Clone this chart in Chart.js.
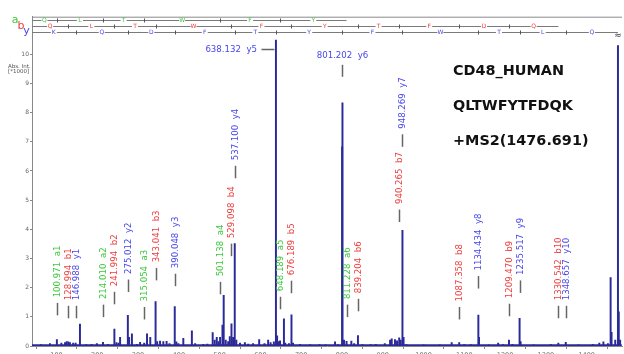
<!DOCTYPE html>
<html>
<head>
<meta charset="utf-8">
<script src="https://cdn.jsdelivr.net/npm/chart.js@4/dist/chart.umd.min.js"></script>
<style>
  html, body { margin: 0; padding: 0; background: #fff; overflow: hidden; height: 354px; }
  #wrap { width: 624px; height: 359px; position: relative; }
</style>
</head>
<body>
<div id="wrap"><canvas id="spec"></canvas></div>
<script>
// ========================================
// DATA
// ========================================

// stick spectrum (m/z, Abs. Int. x1000)
const peakMz = [62, 84, 101.0, 112, 121, 125, 129.0, 133, 141, 147.0, 157.6, 173, 186, 199, 214.0, 226,
    242.0, 247, 252, 256, 275.0, 278, 285, 297, 305, 315.1, 322, 330, 343.0, 347, 354, 362, 370, 377,
    390.0, 394, 399, 411, 432, 440, 460, 470, 483, 488, 493, 497, 501.1, 507, 510, 515, 521, 525, 529.1,
    533, 537.1, 541, 550, 562, 570, 582, 597, 610, 619, 625, 633, 638.1, 641, 645, 648.2, 657.7, 661,
    670, 676.2, 680, 697, 722, 745, 760, 783, 790, 800.4, 801.2, 805, 811.2, 823, 830, 839.2, 850, 870,
    883, 905, 918, 922, 930, 935, 940.3, 944, 948.3, 951, 958, 1000, 1040, 1069, 1087.4, 1100, 1116,
    1134.4, 1136, 1160, 1183, 1195, 1209.5, 1218, 1235.5, 1238, 1270, 1312, 1330.5, 1348.7, 1380, 1415,
    1431, 1441, 1452, 1458.7, 1461, 1470, 1476.7, 1478.7, 1482];
const peakInt = [0.05, 0.08, 0.22, 0.1, 0.12, 0.15, 0.14, 0.12, 0.1, 0.1, 0.75, 0.05, 0.06, 0.08, 0.13, 0.06,
    0.58, 0.12, 0.1, 0.3, 1.05, 0.3, 0.42, 0.06, 0.13, 0.1, 0.42, 0.3, 1.52, 0.15, 0.17, 0.15, 0.16, 0.08,
    1.35, 0.14, 0.08, 0.26, 0.52, 0.08, 0.06, 0.07, 0.46, 0.2, 0.3, 0.15, 0.3, 0.72, 1.74, 0.2, 0.15, 0.32, 0.76,
    0.3, 3.51, 0.2, 0.1, 0.12, 0.07, 0.08, 0.22, 0.08, 0.2, 0.12, 0.14, 10.49, 0.35, 0.15, 0.18, 0.93, 0.1,
    0.08, 1.07, 0.1, 0.06, 0.05, 0.05, 0.04, 0.14, 0.05, 6.83, 8.34, 0.2, 0.16, 0.17, 0.08, 0.36, 0.05, 0.05,
    0.06, 0.08, 0.2, 0.25, 0.22, 0.18, 0.28, 0.2, 3.97, 0.3, 0.05, 0.04, 0.04, 0.12, 0.12, 0.05, 0.05,
    1.06, 0.3, 0.04, 0.1, 0.05, 0.2, 0.06, 0.95, 0.15, 0.04, 0.06, 0.1, 0.13, 0.04, 0.06,
    0.1, 0.14, 0.08, 2.35, 0.47, 0.2, 10.3, 1.17, 0.2];
const baselineMz = [40, 1486];
const baselineInt = [0.03, 0.03];

// fragment labels (marker foot given in intensity units)
const annMz = [100.971, 128.994, 146.988, 214.010, 241.994, 275.012, 315.054, 343.041, 390.048, 501.138,
    529.098, 537.100, 648.189, 676.189, 811.228, 839.204, 940.265, 948.269, 1087.358, 1134.434, 1209.470,
    1235.517, 1330.542, 1348.657];
const annIon = ['a1', 'b1', 'y1', 'a2', 'b2', 'y2', 'a3', 'b3', 'y3', 'a4', 'b4', 'y4', 'a5', 'b5', 'a6', 'b6',
    'b7', 'y7', 'b8', 'y8', 'b9', 'y9', 'b10', 'y10'];
const annLevel = [1.05, 0.95, 0.95, 0.99, 1.43, 1.85, 0.91, 2.25, 2.05, 1.77, 3.08, 5.75, 1.26, 1.81, 0.99,
    1.19, 4.25, 6.83, 0.91, 1.97, 1.02, 1.82, 0.95, 0.95];
// the two big ones are labelled horizontally
const y5Ann = { mz: 638.132, ion: 'y5', level: 10.19 };
const y6Ann = { mz: 801.202, ion: 'y6', level: 9.23 };

// sequence ladder
const aLadderMz = [100.971, 214.010, 315.054, 501.138, 648.189, 811.228];
const aLadderSeq = ['Q', 'L', 'T', 'W', 'F', 'Y'];
const bLadderMz = [128.994, 241.994, 343.041, 529.098, 676.189, 839.204, 940.265, 1087.358, 1209.470, 1330.542];
const bLadderSeq = ['Q', 'L', 'T', 'W', 'F', 'Y', 'T', 'F', 'D', 'Q'];
const yLadderMz = [146.988, 275.012, 390.048, 537.100, 638.132, 801.202, 948.269, 1134.434, 1235.517, 1348.657, 1476.691];
const yLadderSeq = ['K', 'Q', 'D', 'F', 'T', 'Y', 'F', 'W', 'T', 'L', 'Q'];

const xTicks = [100, 200, 300, 400, 500, 600, 700, 800, 900, 1000, 1100, 1200, 1300, 1400];
const yTicks = [0, 1, 2, 3, 4, 5, 6, 7, 8, 9, 10];
const infoLines = ['CD48_HUMAN', 'QLTWFYTFDQK', '+MS2(1476.691)'];

// ========================================
// STYLE
// ========================================

const ionColor = { a: '#3cc83c', b: '#f03c3c', y: '#4646ec' };
const peakColor = '#2a2a98';
const LABEL_FONT = '8.6px "DejaVu Sans"';

// ========================================
// DRAWING PLUGIN
// ========================================

const decorPlugin = {
    id: 'decor',
    afterDatasetsDraw(chart) {
        const { ctx, chartArea: ca, scales: { x, y } } = chart;
        ctx.save();

        // top frame line
        ctx.strokeStyle = '#8a8a8a';
        ctx.lineWidth = 1;
        ctx.beginPath();
        ctx.moveTo(ca.left, ca.top + 0.5);
        ctx.lineTo(ca.right, ca.top + 0.5);
        ctx.stroke();

        // ladder rows
        const rows = [
            { yy: 20.5, mz: aLadderMz, seq: aLadderSeq, color: ionColor.a },
            { yy: 26.5, mz: bLadderMz, seq: bLadderSeq, color: ionColor.b },
            { yy: 32.5, mz: yLadderMz, seq: yLadderSeq, color: ionColor.y }
        ];
        rows.forEach(row => {
            const bounds = [ca.left, ...row.mz.map(v => x.getPixelForValue(v))];
            ctx.strokeStyle = '#7a7a7a';
            ctx.lineWidth = 1;
            ctx.beginPath();
            ctx.moveTo(bounds[0], row.yy);
            ctx.lineTo(bounds[bounds.length - 1], row.yy);
            ctx.stroke();
            ctx.strokeStyle = '#555';
            for (let i = 1; i < bounds.length - 1; i++) {
                const px = Math.round(bounds[i]) + 0.5;
                ctx.beginPath();
                ctx.moveTo(px, row.yy - 2);
                ctx.lineTo(px, row.yy + 2);
                ctx.stroke();
            }
            ctx.font = '6px "DejaVu Sans"';
            ctx.textAlign = 'center';
            ctx.textBaseline = 'middle';
            row.seq.forEach((ch, i) => {
                const mid = (bounds[i] + bounds[i + 1]) / 2;
                ctx.fillStyle = '#fff';
                ctx.fillRect(mid - 3, row.yy - 2, 6, 4);
                ctx.fillStyle = row.color;
                ctx.fillText(ch, mid, row.yy);
            });
        });

        // row names
        ctx.font = '11px "DejaVu Sans"';
        ctx.textAlign = 'center';
        ctx.textBaseline = 'middle';
        ctx.fillStyle = ionColor.a; ctx.fillText('a', 15, 20.5);
        ctx.fillStyle = ionColor.b; ctx.fillText('b', 21, 26);
        ctx.fillStyle = ionColor.y; ctx.fillText('y', 26.5, 31);

        // axis break on the precursor
        ctx.fillStyle = '#333';
        ctx.font = '9px "DejaVu Sans"';
        ctx.fillText('≈', x.getPixelForValue(1476.691), 36);

        // vertical fragment labels
        ctx.font = LABEL_FONT;
        annMz.forEach((mz, i) => {
            const px = Math.round(x.getPixelForValue(mz)) + 0.5;
            const foot = y.getPixelForValue(annLevel[i]);
            ctx.strokeStyle = '#666';
            ctx.lineWidth = 1.5;
            ctx.beginPath();
            ctx.moveTo(px, foot);
            ctx.lineTo(px, foot - 12.5);
            ctx.stroke();
            ctx.save();
            ctx.translate(px + 0.5, foot - 18);
            ctx.rotate(-Math.PI / 2);
            ctx.textAlign = 'left';
            ctx.textBaseline = 'middle';
            ctx.fillStyle = ionColor[annIon[i][0]];
            ctx.fillText(`${mz.toFixed(3)}  ${annIon[i]}`, 0, 0);
            ctx.restore();
        });

        // y5: horizontal marker, text to the left
        {
            const px = x.getPixelForValue(y5Ann.mz);
            const py = Math.round(y.getPixelForValue(y5Ann.level)) + 0.5;
            ctx.strokeStyle = '#666';
            ctx.lineWidth = 1.5;
            ctx.beginPath();
            ctx.moveTo(px - 14.5, py);
            ctx.lineTo(px - 1.5, py);
            ctx.stroke();
            ctx.fillStyle = ionColor.y;
            ctx.textAlign = 'right';
            ctx.textBaseline = 'middle';
            ctx.fillText(`${y5Ann.mz.toFixed(3)}  ${y5Ann.ion}`, px - 19, py + 0.5);
        }

        // y6: vertical marker, text on top
        {
            const px = Math.round(x.getPixelForValue(y6Ann.mz)) + 0.5;
            const foot = y.getPixelForValue(y6Ann.level);
            ctx.beginPath();
            ctx.moveTo(px, foot);
            ctx.lineTo(px, foot - 12);
            ctx.stroke();
            ctx.fillStyle = ionColor.y;
            ctx.textAlign = 'center';
            ctx.textBaseline = 'middle';
            ctx.fillText(`${y6Ann.mz.toFixed(3)}  ${y6Ann.ion}`, px, foot - 21.5);
        }

        // protein / peptide / precursor
        ctx.fillStyle = '#111';
        ctx.font = 'bold 14.4px "DejaVu Sans"';
        ctx.textAlign = 'left';
        ctx.textBaseline = 'middle';
        infoLines.forEach((t, i) => ctx.fillText(t, 453, 71 + i * 35.3));

        // y axis title
        ctx.fillStyle = '#555';
        ctx.font = '5.5px "DejaVu Sans"';
        ctx.textAlign = 'left';
        ctx.fillText('Abs. Int.', 8, 66.5);
        ctx.fillText('[*1000]', 8, 71.5);

        ctx.restore();
    }
};

// ========================================
// CHART
// ========================================

new Chart(document.getElementById('spec'), {
    type: 'bar',
    data: {
        datasets: [
            {
                type: 'line',
                data: baselineMz.map((m, i) => ({ x: m, y: baselineInt[i] })),
                borderColor: peakColor,
                borderWidth: 1.6,
                pointRadius: 0,
                order: 2
            },
            {
                data: peakMz.map((m, i) => ({ x: m, y: peakInt[i] })),
                backgroundColor: peakColor,
                barThickness: 1.3,
                order: 1
            }
        ]
    },
    options: {
        responsive: true,
        maintainAspectRatio: false,
        animation: false,
        events: [],
        layout: { padding: { top: 16.7, right: 2, left: 0, bottom: 0 } },
        plugins: { legend: { display: false }, tooltip: { enabled: false } },
        scales: {
            x: {
                type: 'linear',
                min: 40,
                max: 1486.6,
                offset: false,
                afterBuildTicks: (s) => { s.ticks = xTicks.map(v => ({ value: v })); },
                afterFit: (s) => { s.height = 13; },
                grid: { drawOnChartArea: false, tickLength: 3, color: '#888' },
                border: { color: '#888' },
                ticks: {
                    font: { family: 'DejaVu Sans', size: 6.5 },
                    color: '#666',
                    padding: 2,
                    maxRotation: 0,
                    callback: (v) => String(v)
                }
            },
            y: {
                min: 0,
                max: 11.29,
                afterBuildTicks: (s) => { s.ticks = yTicks.map(v => ({ value: v })); },
                afterFit: (s) => { s.width = 32; },
                grid: { drawOnChartArea: false, tickLength: 2, color: '#888' },
                border: { color: '#888' },
                ticks: { font: { family: 'DejaVu Sans', size: 6 }, color: '#666', padding: 1 }
            }
        }
    },
    plugins: [decorPlugin]
});
</script>
</body>
</html>
